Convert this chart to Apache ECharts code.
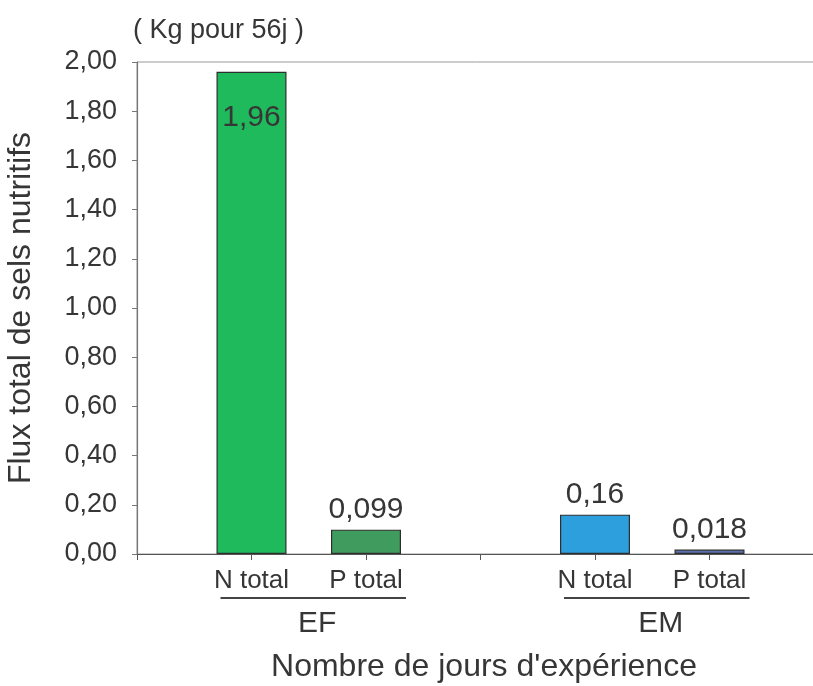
<!DOCTYPE html>
<html>
<head>
<meta charset="utf-8">
<script src="https://cdn.jsdelivr.net/npm/echarts@6/dist/echarts.min.js"></script>
<style>
  html, body { margin: 0; padding: 0; background: #fff; }
  #chart { width: 813px; height: 686px; }
</style>
</head>
<body>
<div id="chart"></div>
<script>
// Nutrient flux per experiment (kg over 56 days)
const groups = ['EF', 'EM'];
const nutrients = ['N total', 'P total'];
const values = [1.96, 0.099, 0.16, 0.018];          // EF N, EF P, EM N, EM P
const barColors = ['#1fba5c', '#3f9c5e', '#2c9fdc', '#5a6fae'];
const yTicks = [0, 0.2, 0.4, 0.6, 0.8, 1.0, 1.2, 1.4, 1.6, 1.8, 2.0];

const FONT = '"Liberation Sans", Arial, sans-serif';
const TEXT = '#363636';

// Category slots: one empty slot before each group so groups sit apart
const slots = [];
const slotValues = [];
const slotColors = [];
let k = 0;
groups.forEach(function () {
  slots.push('');
  slotValues.push(null);
  slotColors.push(null);
  nutrients.forEach(function (n) {
    slots.push(n);
    slotValues.push(values[k]);
    slotColors.push(barColors[k]);
    k++;
  });
});
slots.push('');
slotValues.push(null);
slotColors.push(null);

const fmt = function (v) { return String(v).replace('.', ','); };

const chart = echarts.init(document.getElementById('chart'));

chart.setOption({
  animation: false,
  grid: {
    left: 137, top: 62, width: 687, height: 492,
    outerBoundsMode: 'none',
    containLabel: false,
    show: true, borderColor: '#9a9a9a', borderWidth: 1
  },
  xAxis: {
    type: 'category',
    data: slots,
    boundaryGap: false,
    axisLine: { lineStyle: { color: '#555', width: 1.2 } },
    axisTick: { show: true, length: 6, alignWithLabel: true, interval: 0, lineStyle: { color: '#555' } },
    axisLabel: { interval: 0, margin: 14, color: TEXT, fontSize: 26, fontFamily: FONT },
    splitLine: { show: false }
  },
  yAxis: {
    type: 'value',
    min: yTicks[0],
    max: yTicks[yTicks.length - 1],
    interval: 0.2,
    name: 'Flux total de sels nutritifs',
    nameLocation: 'middle',
    nameGap: 100,
    nameTextStyle: { color: TEXT, fontSize: 32, fontFamily: FONT },
    axisLine: { show: true, lineStyle: { color: '#777', width: 1.2 } },
    axisTick: { show: true, length: 5, lineStyle: { color: '#777' } },
    axisLabel: {
      margin: 20, color: TEXT, fontSize: 27, fontFamily: FONT,
      formatter: function (v) { return v.toFixed(2).replace('.', ','); }
    },
    splitLine: { show: false }
  },
  series: [{
    type: 'bar',
    barWidth: 70,
    data: slotValues.map(function (v, i) {
      if (v === null) return null;
      return {
        value: v,
        itemStyle: { color: slotColors[i], borderColor: '#2e2e2e', borderWidth: 1.2 },
        label: v > 1
          ? { position: 'insideTop', distance: 31 }
          : { position: 'top', distance: 5 }
      };
    }),
    label: {
      show: true,
      color: TEXT,
      fontSize: 30,
      fontFamily: FONT,
      formatter: function (p) { return fmt(p.value); }
    }
  }]
});

// Group captions: underline under each pair of labels plus the group name
const graphics = [];
groups.forEach(function (g, gi) {
  const firstSlot = gi * (nutrients.length + 1) + 1;
  const lastSlot = firstSlot + nutrients.length - 1;
  const x1 = chart.convertToPixel({ xAxisIndex: 0 }, firstSlot);
  const x2 = chart.convertToPixel({ xAxisIndex: 0 }, lastSlot);
  const y0 = chart.convertToPixel({ yAxisIndex: 0 }, 0);
  const left = x1 - 31;
  const right = x2 + 40;
  graphics.push({
    type: 'line',
    shape: { x1: left, y1: y0 + 44, x2: right, y2: y0 + 44 },
    style: { stroke: '#444', lineWidth: 2 }
  });
  graphics.push({
    type: 'text',
    x: (left + right) / 2 + 4,
    y: y0 + 70,
    style: {
      text: g, fill: TEXT, font: '30px ' + FONT,
      textAlign: 'center', textVerticalAlign: 'middle'
    }
  });
});
// Unit note above the value axis
graphics.push({
  type: 'text',
  x: 133, y: 31,
  style: { text: '( Kg pour 56j )', fill: TEXT, font: '27px ' + FONT, textVerticalAlign: 'middle' }
});
// Category axis title
graphics.push({
  type: 'text',
  x: 484, y: 667,
  style: {
    text: "Nombre de jours d'expérience", fill: TEXT, font: '32px ' + FONT,
    textAlign: 'center', textVerticalAlign: 'middle'
  }
});
chart.setOption({ graphic: graphics });
</script>
</body>
</html>
